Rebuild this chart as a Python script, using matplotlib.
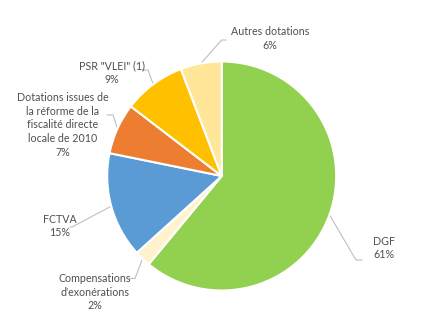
import numpy as np
import matplotlib
matplotlib.use("Agg")
import matplotlib.pyplot as plt

# ---- data ----
categories = ["DGF", "Compensations\nd'exonérations", "FCTVA",
              "Dotations issues de\nla réforme de la\nfiscalité directe\nlocale de 2010",
              "PSR \"VLEI\" (1)", "Autres dotations"]
values = [61.0, 2.3, 14.9, 7.2, 8.8, 5.8]
colors = ["#92D050", "#FFF2CC", "#5B9BD5", "#ED7D31", "#FFC000", "#FFE699"]

# ---- layout (pixels) ----
W, H = 448, 322
CX, CY, R = 221.7, 176.0, 114.5
# label anchor (x, y, ha), leader elbow and end
label_pos = [(373, 248, "left"), (95, 292, "center"), (60, 226, "center"),
             (63, 125, "center"), (112, 72.5, "center"), (270, 38.5, "center")]
elbows = [((356, 260), (362, 260)), ((135, 278.5), (130, 278.5)),
          ((72, 227), (70, 227)), ((113, 115), (107, 115)),
          ((148, 70), (142, 70)), ((221.7, 40), (226, 40))]

def px(x, y):
    return ((x - CX) / R, (CY - y) / R)

plt.rcParams['font.family'] = ['Lato', 'DejaVu Sans']
fig = plt.figure(figsize=(W / 100, H / 100), dpi=100)
ax = fig.add_axes([0, 0, 1, 1])
ax.axis('off')

wedges, _ = ax.pie(values, colors=colors, startangle=90, counterclock=False,
                   radius=1.0, center=(0, 0),
                   wedgeprops=dict(edgecolor='white', linewidth=1.5))
ax.set_xlim(-CX / R, (W - CX) / R)
ax.set_ylim((CY - H) / R, CY / R)
ax.set_aspect('auto')

total = sum(values)
for w, cat, v, (lx, ly, ha), (e1, e2) in zip(wedges, categories, values, label_pos, elbows):
    ang = np.deg2rad((w.theta1 + w.theta2) / 2)
    sx, sy = np.cos(ang), np.sin(ang)
    ex1, ey1 = px(*e1)
    ex2, ey2 = px(*e2)
    ax.plot([sx, ex1, ex2], [sy, ey1, ey2], color='#BFBFBF', lw=0.8, zorder=0)
    pct = round(v / total * 100)
    tx, ty = px(lx, ly)
    ax.text(tx, ty, f"{cat}\n{pct}%", ha=ha, va='center', multialignment=ha,
            fontsize=7.7, color='#4F4F4F', linespacing=1.3)

fig.savefig("out.png", dpi=100, facecolor='white')
